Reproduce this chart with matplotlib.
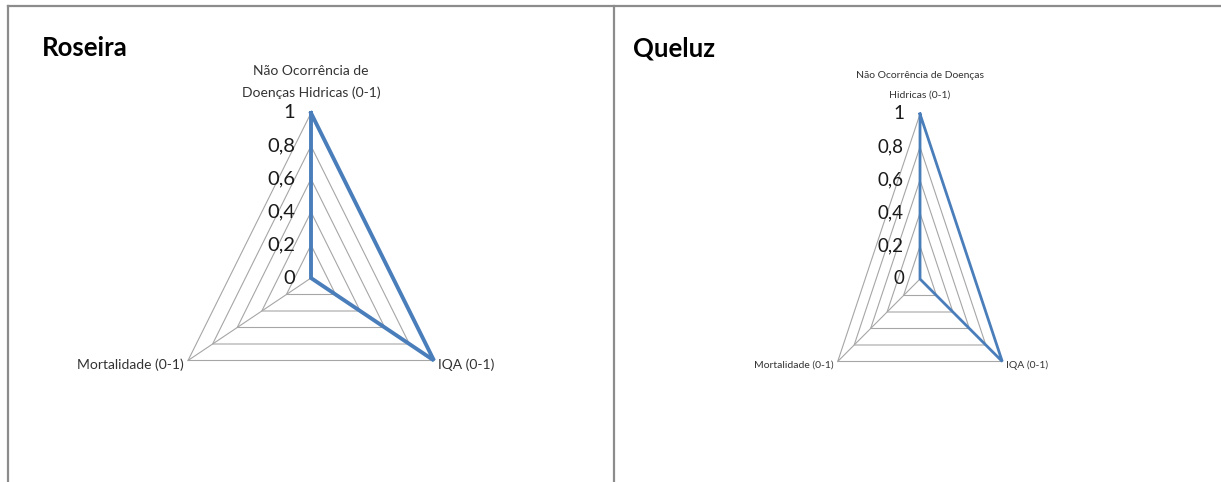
import numpy as np
import matplotlib
matplotlib.use('Agg')
import matplotlib.pyplot as plt
from matplotlib.lines import Line2D

plt.rcParams['font.family'] = ['Lato', 'DejaVu Sans']

# Indicadores (0-1) de cada município
eixos_roseira = ['Não Ocorrência de\nDoenças Hidricas (0-1)', 'IQA (0-1)', 'Mortalidade (0-1)']
eixos_queluz = ['Não Ocorrência de Doenças\nHidricas (0-1)', 'IQA (0-1)', 'Mortalidade (0-1)']
valores_roseira = [1.0, 1.0, 0.0]
valores_queluz = [1.0, 1.0, 0.0]
niveis = [0, 0.2, 0.4, 0.6, 0.8, 1.0]
rotulos_niveis = ['0', '0,2', '0,4', '0,6', '0,8', '1']

W, H = 1221, 482
fig = plt.figure(figsize=(W / 100, H / 100), dpi=100)

# moldura dos dois quadros
cor_moldura = '#8c8c8c'
fig.add_artist(Line2D([8 / W, 1], [1 - 6 / H, 1 - 6 / H], color=cor_moldura, lw=1.6))
fig.add_artist(Line2D([8 / W, 8 / W], [0, 1 - 6 / H], color=cor_moldura, lw=1.6))
fig.add_artist(Line2D([614 / W, 614 / W], [0, 1 - 6 / H], color=cor_moldura, lw=1.6))

angulos = np.array([0, 2 * np.pi / 3, 4 * np.pi / 3])


def radar(cx, cy, sx, sy, titulo, tx, eixos, valores, fs_eixo, fs_nivel, lw_serie, gap, esp):
    ax = fig.add_axes([0, 0, 1, 1])
    ax.patch.set_alpha(0)
    ax.set_xlim((0 - cx) / sx, (W - cx) / sx)
    ax.set_ylim((cy - H) / sy, cy / sy)
    ax.axis('off')

    px = np.sin(angulos)
    py = np.cos(angulos)

    # anéis da grade
    for n in niveis[1:]:
        ax.plot(np.append(px, px[0]) * n, np.append(py, py[0]) * n,
                color='#a6a6a6', lw=0.8, zorder=1)
    # raios
    for x, y in zip(px, py):
        ax.plot([0, x], [0, y], color='#a6a6a6', lw=0.8, zorder=1)

    # série
    v = np.array(valores)
    ax.plot(np.append(px * v, px[0] * v[0]), np.append(py * v, py[0] * v[0]),
            color='#4a7ebb', lw=lw_serie, zorder=3, solid_joinstyle='miter')

    # rótulos dos níveis
    dx = 16 / sx
    for n, r in zip(niveis, rotulos_niveis):
        ax.text(-dx, n, r, ha='right', va='center', fontsize=fs_nivel, color='#1a1a1a')

    # rótulos dos eixos
    ax.text(0, 1 + gap / sy, eixos[0], ha='center', va='bottom', fontsize=fs_eixo,
            color='#333333', linespacing=esp)
    ax.text(px[1] + 4 / sx, py[1] - 4 / sy, eixos[1], ha='left', va='center',
            fontsize=fs_eixo, color='#333333')
    ax.text(px[2] - 4 / sx, py[2] - 4 / sy, eixos[2], ha='right', va='center',
            fontsize=fs_eixo, color='#333333')

    fig.text(tx / W, 1 - 48 / H, titulo, ha='left', va='center', fontsize=18.5,
             fontweight='bold', color='black')


radar(311, 278, 142, 165, 'Roseira', 42, eixos_roseira, valores_roseira, 10, 14.5, 2.8, 14, 1.9)
radar(920, 279, 95, 165, 'Queluz', 633, eixos_queluz, valores_queluz, 7.5, 13.5, 2.0, 14, 2.6)

fig.savefig('out.png', dpi=100)
